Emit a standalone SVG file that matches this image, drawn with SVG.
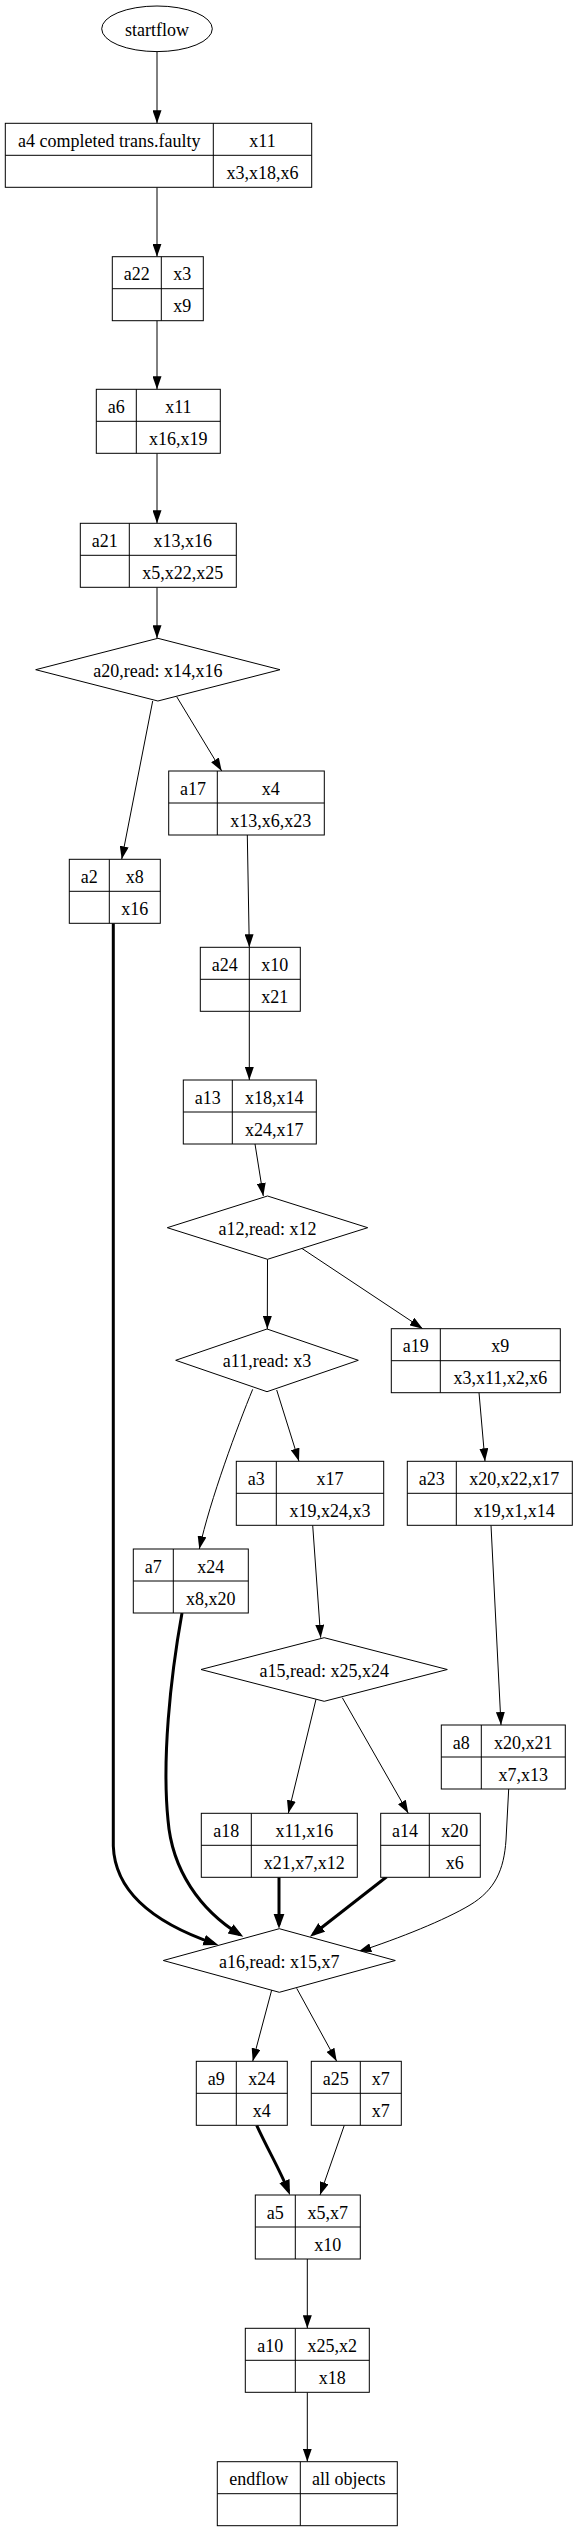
<svg xmlns="http://www.w3.org/2000/svg" width="577" height="2530" viewBox="0 0 577 2530">
<style>
.s{fill:#fff;stroke:#000;stroke-width:1}
.d{stroke:#000;stroke-width:1;fill:none}
.t{font-family:"Liberation Serif","Times New Roman",serif;font-size:18px;fill:#000;text-anchor:middle}
.e{fill:none;stroke:#000;stroke-width:1;marker-end:url(#ah)}
.b{fill:none;stroke:#000;stroke-width:3;marker-end:url(#bh)}
</style>
<defs>
<marker id="ah" markerUnits="userSpaceOnUse" markerWidth="13" markerHeight="9" refX="13" refY="4.5" orient="auto"><path d="M0,0 L13,4.5 L0,9 z" fill="#000" stroke="none"/></marker>
<marker id="bh" markerUnits="userSpaceOnUse" markerWidth="16" markerHeight="12" refX="11" refY="5.5" orient="auto"><path d="M0,0 L15,5.5 L0,11 z" fill="#000" stroke="none"/></marker>
</defs>
<rect width="577" height="2530" fill="#fff"/>
<g id="connectors">
<path class="e" d="M157,52 L157,123.3"/>
<path class="e" d="M157,187.3 L157,256.7"/>
<path class="e" d="M157,320.3 L157,389.3"/>
<path class="e" d="M157,453.3 L157,523.3"/>
<path class="e" d="M157,587.3 L157,638.3"/>
<path class="e" d="M176.7,696.7 L221.7,771"/>
<path class="e" d="M152.7,701 L121.7,859.3"/>
<path class="e" d="M247.3,835 L249.3,947.3"/>
<path class="e" d="M249.3,1011.3 L249.3,1080"/>
<path class="e" d="M255,1144 L263.3,1196"/>
<path class="e" d="M267.5,1259.3 L267.3,1329"/>
<path class="e" d="M301.7,1248.3 L422.7,1328.7"/>
<path class="e" d="M276.7,1390 L299,1461.3"/>
<path class="e" d="M252.7,1389.3 C238,1425 210,1500 199.3,1549"/>
<path class="e" d="M479,1392.7 L485,1461.3"/>
<path class="e" d="M312.7,1525.3 L320.7,1637.7"/>
<path class="e" d="M491,1525.3 L501,1725"/>
<path class="e" d="M316,1699.3 L288.3,1813.3"/>
<path class="e" d="M342.3,1697.7 L408.3,1813.3"/>
<path class="b" d="M113.3,923.3 L113.3,1846 C115,1895 160,1925 214.5,1943.7"/>
<path class="b" d="M182,1613 C170,1680 162,1760 168,1820 C172,1870 200,1910 239.9,1934.6"/>
<path class="b" d="M279,1877.3 L279,1924.7"/>
<path class="b" d="M386.7,1876.7 L313.1,1934.2"/>
<path class="e" d="M508.7,1789 L506,1840 C504,1870 495,1890 470,1905 C445,1920 400,1938 358.3,1951.7"/>
<path class="e" d="M271.7,1990 L252.7,2061.3"/>
<path class="e" d="M296.7,1988.3 L336.7,2061.3"/>
<path class="b" d="M256.7,2125.3 C268,2150 280,2170 288.5,2191.3"/>
<path class="e" d="M344.3,2125.3 L320,2195"/>
<path class="e" d="M307.3,2259 L307.3,2328.3"/>
<path class="e" d="M307.3,2392.3 L307.3,2461.7"/>
</g>
<g id="startflow"><ellipse class="s" cx="157" cy="28.8" rx="55.3" ry="22.8"/><text class="t" x="157" y="36">startflow</text></g>
<g id="a4"><rect class="s" x="5.3" y="123.3" width="306.4" height="64"/><path class="d" d="M213.3,123.3 V187.3 M5.3,155.3 H311.7"/><text class="t" x="109.3" y="146.8">a4  completed trans.faulty</text><text class="t" x="262.5" y="146.8">x11</text><text class="t" x="262.5" y="178.8">x3,x18,x6</text></g>
<g id="a22"><rect class="s" x="112.3" y="256.7" width="91" height="64"/><path class="d" d="M161.3,256.7 V320.7 M112.3,288.7 H203.3"/><text class="t" x="136.8" y="280.2">a22</text><text class="t" x="182.3" y="280.2">x3</text><text class="t" x="182.3" y="312.2">x9</text></g>
<g id="a6"><rect class="s" x="96.3" y="389.3" width="124" height="64"/><path class="d" d="M136.3,389.3 V453.3 M96.3,421.3 H220.3"/><text class="t" x="116.3" y="412.8">a6</text><text class="t" x="178.3" y="412.8">x11</text><text class="t" x="178.3" y="444.8">x16,x19</text></g>
<g id="a21"><rect class="s" x="80.3" y="523.3" width="156" height="64"/><path class="d" d="M129.3,523.3 V587.3 M80.3,555.3 H236.3"/><text class="t" x="104.8" y="546.8">a21</text><text class="t" x="182.8" y="546.8">x13,x16</text><text class="t" x="182.8" y="578.8">x5,x22,x25</text></g>
<g id="a20"><polygon class="s" points="157.9,638.3 280,669.7 157.9,701 35.7,669.7"/><text class="t" x="157.9" y="676.7">a20,read: x14,x16</text></g>
<g id="a17"><rect class="s" x="168.7" y="771" width="155.6" height="64"/><path class="d" d="M217.3,771 V835 M168.7,803 H324.3"/><text class="t" x="193" y="794.5">a17</text><text class="t" x="270.8" y="794.5">x4</text><text class="t" x="270.8" y="826.5">x13,x6,x23</text></g>
<g id="a2"><rect class="s" x="69.3" y="859.3" width="91" height="64"/><path class="d" d="M109.3,859.3 V923.3 M69.3,891.3 H160.3"/><text class="t" x="89.3" y="882.8">a2</text><text class="t" x="134.8" y="882.8">x8</text><text class="t" x="134.8" y="914.8">x16</text></g>
<g id="a24"><rect class="s" x="200.3" y="947.3" width="100" height="64"/><path class="d" d="M249.3,947.3 V1011.3 M200.3,979.3 H300.3"/><text class="t" x="224.8" y="970.8">a24</text><text class="t" x="274.8" y="970.8">x10</text><text class="t" x="274.8" y="1002.8">x21</text></g>
<g id="a13"><rect class="s" x="183.3" y="1080" width="133" height="64"/><path class="d" d="M232.3,1080 V1144 M183.3,1112 H316.3"/><text class="t" x="207.8" y="1103.5">a13</text><text class="t" x="274.3" y="1103.5">x18,x14</text><text class="t" x="274.3" y="1135.5">x24,x17</text></g>
<g id="a12"><polygon class="s" points="267.5,1196 367.7,1227.7 267.5,1259.3 167.3,1227.7"/><text class="t" x="267.5" y="1234.7">a12,read: x12</text></g>
<g id="a11"><polygon class="s" points="267,1329 358.3,1360.3 267,1391.7 175.7,1360.3"/><text class="t" x="267" y="1367.3">a11,read: x3</text></g>
<g id="a19"><rect class="s" x="391.3" y="1328.7" width="169" height="64"/><path class="d" d="M440.3,1328.7 V1392.7 M391.3,1360.7 H560.3"/><text class="t" x="415.8" y="1352.2">a19</text><text class="t" x="500.3" y="1352.2">x9</text><text class="t" x="500.3" y="1384.2">x3,x11,x2,x6</text></g>
<g id="a3"><rect class="s" x="236.3" y="1461.3" width="147.4" height="64"/><path class="d" d="M276.3,1461.3 V1525.3 M236.3,1493.3 H383.7"/><text class="t" x="256.3" y="1484.8">a3</text><text class="t" x="330" y="1484.8">x17</text><text class="t" x="330" y="1516.8">x19,x24,x3</text></g>
<g id="a23"><rect class="s" x="407.3" y="1461.3" width="165" height="64"/><path class="d" d="M456.3,1461.3 V1525.3 M407.3,1493.3 H572.3"/><text class="t" x="431.8" y="1484.8">a23</text><text class="t" x="514.3" y="1484.8">x20,x22,x17</text><text class="t" x="514.3" y="1516.8">x19,x1,x14</text></g>
<g id="a7"><rect class="s" x="133.3" y="1549" width="115" height="64"/><path class="d" d="M173.3,1549 V1613 M133.3,1581 H248.3"/><text class="t" x="153.3" y="1572.5">a7</text><text class="t" x="210.8" y="1572.5">x24</text><text class="t" x="210.8" y="1604.5">x8,x20</text></g>
<g id="a15"><polygon class="s" points="324.2,1637.7 447.3,1669.5 324.2,1701.3 201,1669.5"/><text class="t" x="324.2" y="1676.5">a15,read: x25,x24</text></g>
<g id="a8"><rect class="s" x="441.3" y="1725" width="124" height="64"/><path class="d" d="M481.3,1725 V1789 M441.3,1757 H565.3"/><text class="t" x="461.3" y="1748.5">a8</text><text class="t" x="523.3" y="1748.5">x20,x21</text><text class="t" x="523.3" y="1780.5">x7,x13</text></g>
<g id="a18"><rect class="s" x="201.3" y="1813.3" width="156" height="64"/><path class="d" d="M251.3,1813.3 V1877.3 M201.3,1845.3 H357.3"/><text class="t" x="226.3" y="1836.8">a18</text><text class="t" x="304.3" y="1836.8">x11,x16</text><text class="t" x="304.3" y="1868.8">x21,x7,x12</text></g>
<g id="a14"><rect class="s" x="380.7" y="1813.3" width="99.6" height="64"/><path class="d" d="M429.3,1813.3 V1877.3 M380.7,1845.3 H480.3"/><text class="t" x="405" y="1836.8">a14</text><text class="t" x="454.8" y="1836.8">x20</text><text class="t" x="454.8" y="1868.8">x6</text></g>
<g id="a16"><polygon class="s" points="279.3,1928.7 395.3,1960.5 279.3,1992.3 163.3,1960.5"/><text class="t" x="279.3" y="1967.5">a16,read: x15,x7</text></g>
<g id="a9"><rect class="s" x="196.3" y="2061.3" width="91" height="64"/><path class="d" d="M236.3,2061.3 V2125.3 M196.3,2093.3 H287.3"/><text class="t" x="216.3" y="2084.8">a9</text><text class="t" x="261.8" y="2084.8">x24</text><text class="t" x="261.8" y="2116.8">x4</text></g>
<g id="a25"><rect class="s" x="311.3" y="2061.3" width="90" height="64"/><path class="d" d="M360.3,2061.3 V2125.3 M311.3,2093.3 H401.3"/><text class="t" x="335.8" y="2084.8">a25</text><text class="t" x="380.8" y="2084.8">x7</text><text class="t" x="380.8" y="2116.8">x7</text></g>
<g id="a5"><rect class="s" x="255.3" y="2195" width="105" height="64"/><path class="d" d="M295.3,2195 V2259 M255.3,2227 H360.3"/><text class="t" x="275.3" y="2218.5">a5</text><text class="t" x="327.8" y="2218.5">x5,x7</text><text class="t" x="327.8" y="2250.5">x10</text></g>
<g id="a10"><rect class="s" x="245.3" y="2328.3" width="124" height="64"/><path class="d" d="M295.3,2328.3 V2392.3 M245.3,2360.3 H369.3"/><text class="t" x="270.3" y="2351.8">a10</text><text class="t" x="332.3" y="2351.8">x25,x2</text><text class="t" x="332.3" y="2383.8">x18</text></g>
<g id="endflow"><rect class="s" x="217.3" y="2461.7" width="180" height="64"/><path class="d" d="M300.3,2461.7 V2525.7 M217.3,2493.7 H397.3"/><text class="t" x="258.8" y="2485.2">endflow</text><text class="t" x="348.8" y="2485.2">all objects</text></g>
</svg>
